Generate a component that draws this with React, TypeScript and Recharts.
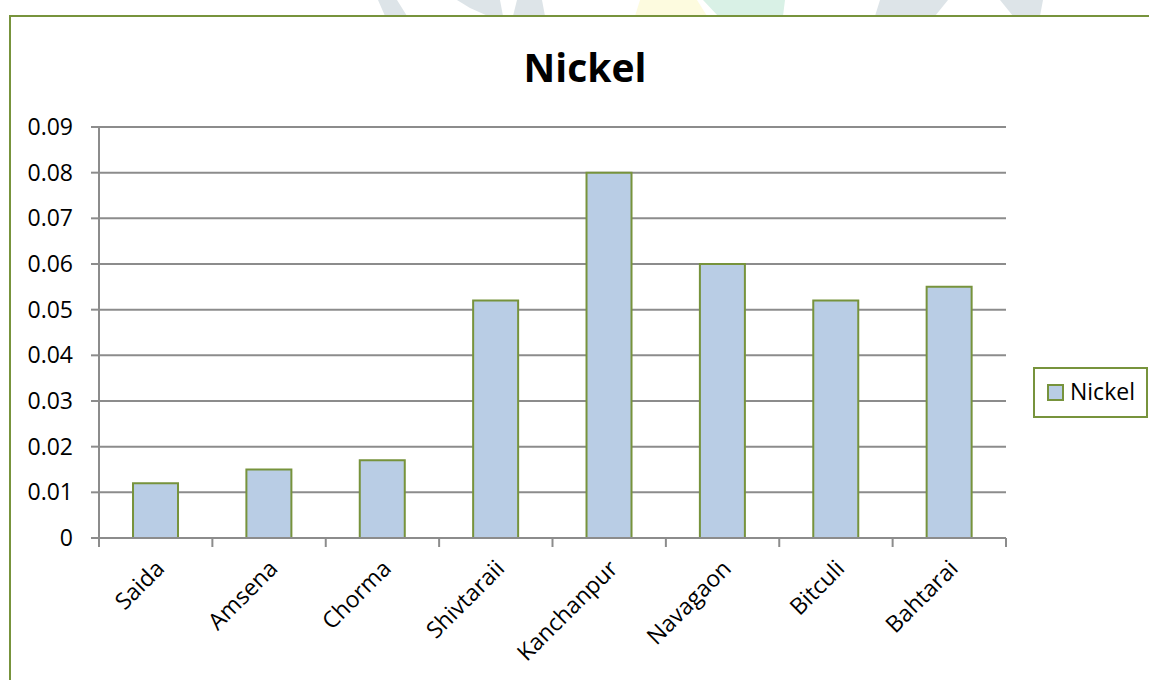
import React from 'react';
import { BarChart, Bar, XAxis, YAxis, CartesianGrid } from 'recharts';

const sites = ['Saida', 'Amsena', 'Chorma', 'Shivtaraii', 'Kanchanpur', 'Navagaon', 'Bitculi', 'Bahtarai'];
const nickel = [0.012, 0.015, 0.017, 0.052, 0.08, 0.06, 0.052, 0.055];
const yTicks = [0, 0.01, 0.02, 0.03, 0.04, 0.05, 0.06, 0.07, 0.08, 0.09];

const chartData = sites.map((site, i) => ({ site, nickel: nickel[i] }));

const WIDTH = 1149;
const HEIGHT = 680;
const FONT = '"Open Sans", "Noto Sans", sans-serif';
const AXIS_GREY = '#8c8c8c';
const OLIVE = '#77933c';
const BAR_FILL = '#b9cde5';

// category labels sit at 45 degrees; tick marks go on the band edges, not the centres
const CategoryTick = (props: any) => {
    const { x, y, payload, index, visibleTicksCount } = props;
    const half = payload?.offset ?? 0;
    const ax = x + 10;
    const ay = y + 32;
    return (
        <g>
            <line x1={x - half} x2={x - half} y1={y} y2={y + 9} stroke={AXIS_GREY} strokeWidth={2} />
            {index === visibleTicksCount - 1 && (
                <line x1={x + half} x2={x + half} y1={y} y2={y + 9} stroke={AXIS_GREY} strokeWidth={2} />
            )}
            <text
                x={ax}
                y={ay}
                textAnchor="end"
                transform={`rotate(-45, ${ax}, ${ay})`}
                fontFamily={FONT}
                fontSize={23}
                fill="#000"
            >
                {payload.value}
            </text>
        </g>
    );
};

const formatTick = (v: number) => (v === 0 ? '0' : v.toFixed(2));

const Backdrop = () => (
    <svg width={WIDTH} height={HEIGHT} style={{ position: 'absolute', left: 0, top: 0 }}>
        {/* faint page watermark peeking above the chart frame */}
        <polygon points="378,0 397,0 407,16 385,16" fill="#dde4e8" />
        <polygon points="457,0 500,0 503,16 488,16 470,8" fill="#dde4e8" />
        <polygon points="517,0 542,0 545,16 513,16" fill="#dde4e8" />
        <polygon points="640,0 697,0 707,16 635,16" fill="#fdfbdf" />
        <polygon points="703,0 785,0 783,16 718,16" fill="#d9f1e6" />
        <polygon points="880,0 948,0 935,16 875,16" fill="#dde4e8" />
        <polygon points="1000,0 1043,0 1040,16 1013,16" fill="#dde4e8" />

        <rect x={10} y={16} width={1200} height={700} fill="#fff" stroke={OLIVE} strokeWidth={2} />

        <text x={585} y={82} textAnchor="middle" fontFamily={FONT} fontWeight="bold" fontSize={39} fill="#000">
            Nickel
        </text>

        <rect x={1034} y={368} width={113} height={49} fill="#fff" stroke={OLIVE} strokeWidth={2} />
        <rect x={1048} y={385} width={15} height={15} fill={BAR_FILL} stroke={OLIVE} strokeWidth={2} />
        <text x={1070} y={400} fontFamily={FONT} fontSize={23} fill="#000">
            Nickel
        </text>
    </svg>
);

export default function App() {
    return (
        <div style={{ position: 'absolute', left: 0, top: 0, width: WIDTH, height: HEIGHT, overflow: 'hidden', background: '#fff' }}>
            <Backdrop />
            <div style={{ position: 'absolute', left: 0, top: 0 }}>
                <BarChart
                    width={WIDTH}
                    height={HEIGHT}
                    data={chartData}
                    margin={{ top: 127, right: 143, bottom: 0, left: 0 }}
                    barCategoryGap="30%"
                >
                    <CartesianGrid vertical={false} stroke={AXIS_GREY} strokeWidth={2} />
                    <XAxis
                        dataKey="site"
                        height={142}
                        interval={0}
                        tickSize={0}
                        tickMargin={0}
                        tickLine={false}
                        axisLine={{ stroke: AXIS_GREY, strokeWidth: 2 }}
                        tick={<CategoryTick />}
                    />
                    <YAxis
                        width={99}
                        domain={[0, 0.09]}
                        ticks={yTicks}
                        interval={0}
                        tickFormatter={formatTick}
                        tickSize={8}
                        tickMargin={18}
                        axisLine={{ stroke: AXIS_GREY, strokeWidth: 2 }}
                        tickLine={{ stroke: AXIS_GREY, strokeWidth: 2 }}
                        tick={{ fontFamily: FONT, fontSize: 23, fill: '#000' }}
                    />
                    <Bar
                        dataKey="nickel"
                        name="Nickel"
                        fill={BAR_FILL}
                        stroke={OLIVE}
                        strokeWidth={2}
                        isAnimationActive={false}
                    />
                </BarChart>
            </div>
        </div>
    );
}
